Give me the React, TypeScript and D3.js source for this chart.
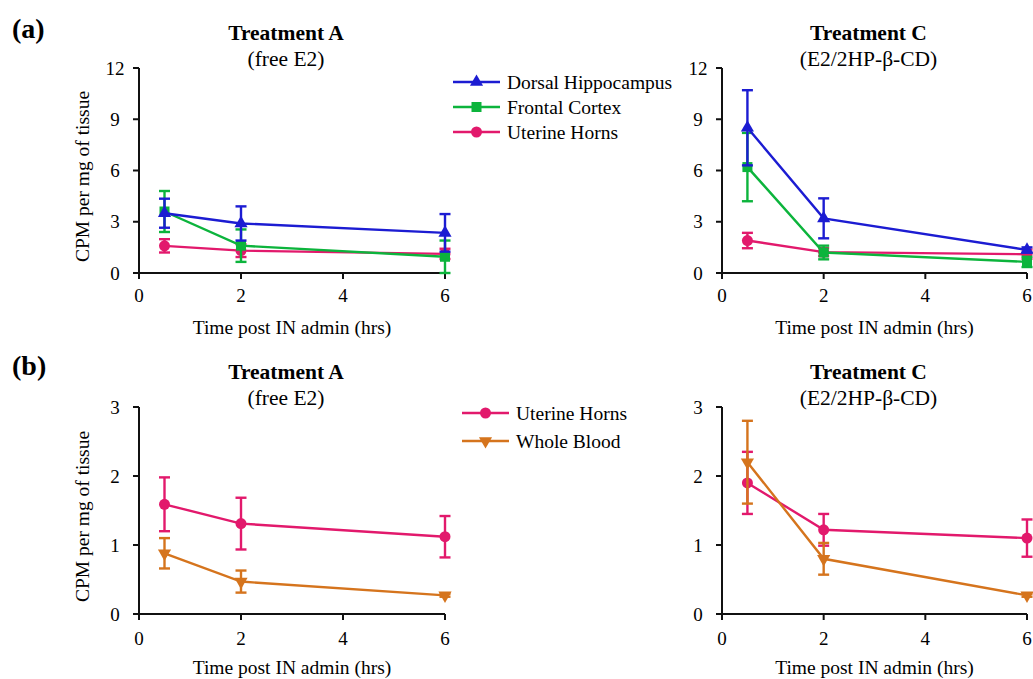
import React from "react";
import * as d3 from "d3";

// ---- data ----
const times = [0.5, 2, 6];
const xTicks = [0, 2, 4, 6];
const yTicksA = [0, 3, 6, 9, 12];
const yTicksB = [0, 1, 2, 3];

const dhA = [3.5, 2.9, 2.35];
const dhAErr = [0.85, 1.0, 1.1];
const fcA = [3.6, 1.6, 0.95];
const fcAErr = [1.2, 0.95, 0.95];
const uhA = [1.59, 1.31, 1.12];
const uhAErr = [0.39, 0.375, 0.3];
const wbA = [0.88, 0.47, 0.27];
const wbAErr = [0.22, 0.16, 0.02];

const dhC = [8.5, 3.2, 1.35];
const dhCErr = [2.2, 1.17, 0.15];
const fcC = [6.2, 1.2, 0.65];
const fcCErr = [2.0, 0.4, 0.3];
const uhC = [1.9, 1.22, 1.1];
const uhCErr = [0.45, 0.23, 0.27];
const wbC = [2.2, 0.8, 0.27];
const wbCErr = [0.6, 0.23, 0.02];

const COL = {
  dh: "#1c1cd2",
  fc: "#0cb43c",
  uh: "#e2196c",
  wb: "#d5741d",
};

type Shape = "tri" | "sq" | "circ" | "itri";

interface Series {
  name: string;
  color: string;
  shape: Shape;
  values: number[];
  errs: number[];
}

const FONT = "'Liberation Serif', 'Times New Roman', serif";

function Marker({ shape, x, y, color }: { shape: Shape; x: number; y: number; color: string }) {
  if (shape === "circ") return <circle cx={x} cy={y} r={5.5} fill={color} />;
  if (shape === "sq") return <rect x={x - 5} y={y - 5} width={10} height={10} fill={color} />;
  const sym = d3.symbol().type(d3.symbolTriangle).size(75)();
  return (
    <path d={sym || ""} transform={`translate(${x},${y})${shape === "itri" ? " rotate(180)" : ""}`} fill={color} />
  );
}

function Panel({
  x0, x1, yBot, yTop, yMax, yTicks, series, title, subtitle, tickY, labelY, showYLabel,
}: {
  x0: number; x1: number; yBot: number; yTop: number; yMax: number; yTicks: number[];
  series: Series[]; title: string; subtitle: string; tickY: number; labelY: number; showYLabel: boolean;
}) {
  const xs = d3.scaleLinear().domain([0, 6]).range([x0, x1]);
  const ys = d3.scaleLinear().domain([0, yMax]).range([yBot, yTop]);
  const line = d3
    .line<number>()
    .x((_, i) => xs(times[i]))
    .y((v) => ys(v));
  const cx = (x0 + x1) / 2;
  return (
    <g>
      <text x={cx - 6} y={yTop - 28} textAnchor="middle" fontFamily={FONT} fontWeight="bold" fontSize={21.5}>
        {title}
      </text>
      <text x={cx - 6} y={yTop - 2} textAnchor="middle" fontFamily={FONT} fontSize={21.5}>
        {subtitle}
      </text>
      {/* axes */}
      <line x1={x0} x2={x0} y1={yTop} y2={yBot} stroke="#111" strokeWidth={2} />
      <line x1={x0 - 6} x2={x1} y1={yBot} y2={yBot} stroke="#111" strokeWidth={2} />
      {yTicks.map((t) => (
        <g key={"y" + t}>
          <line x1={x0 - 6} x2={x0} y1={ys(t)} y2={ys(t)} stroke="#111" strokeWidth={2} />
          <text x={x0 - 24} y={ys(t) + 6.5} textAnchor="middle" fontFamily={FONT} fontSize={19}>
            {t}
          </text>
        </g>
      ))}
      {xTicks.map((t) => (
        <g key={"x" + t}>
          <line x1={xs(t)} x2={xs(t)} y1={yBot} y2={yBot + 6} stroke="#111" strokeWidth={2} />
          <text x={xs(t)} y={tickY} textAnchor="middle" fontFamily={FONT} fontSize={19}>
            {t}
          </text>
        </g>
      ))}
      <text x={cx} y={labelY} textAnchor="middle" fontFamily={FONT} fontSize={19.5}>
        Time post IN admin (hrs)
      </text>
      {showYLabel && (
        <text
          transform={`translate(${x0 - 50},${(yTop + yBot) / 2 + 6}) rotate(-90)`}
          textAnchor="middle"
          fontFamily={FONT}
          fontSize={19.5}
        >
          CPM per mg of tissue
        </text>
      )}
      {series.map((s) => (
        <g key={s.name}>
          <path d={line(s.values) || ""} fill="none" stroke={s.color} strokeWidth={2.4} />
          {s.values.map((v, i) => {
            const px = xs(times[i]);
            const hi = ys(v + s.errs[i]);
            const lo = ys(Math.max(0, v - s.errs[i]));
            return (
              <g key={i}>
                <line x1={px} x2={px} y1={hi} y2={lo} stroke={s.color} strokeWidth={2.4} />
                <line x1={px - 5.5} x2={px + 5.5} y1={hi} y2={hi} stroke={s.color} strokeWidth={2.4} />
                <line x1={px - 5.5} x2={px + 5.5} y1={lo} y2={lo} stroke={s.color} strokeWidth={2.4} />
                <Marker shape={s.shape} x={px} y={ys(v)} color={s.color} />
              </g>
            );
          })}
        </g>
      ))}
    </g>
  );
}

function Legend({ x, y, gap, series }: { x: number; y: number; gap: number; series: Series[] }) {
  return (
    <g>
      {series.map((s, i) => {
        const cy = y + i * gap;
        return (
          <g key={s.name}>
            <line x1={x} x2={x + 47} y1={cy} y2={cy} stroke={s.color} strokeWidth={2.4} />
            <Marker shape={s.shape} x={x + 23.5} y={cy} color={s.color} />
            <text x={x + 54} y={cy + 6.5} fontFamily={FONT} fontSize={19.5}>
              {s.name}
            </text>
          </g>
        );
      })}
    </g>
  );
}

export default function App() {
  const sDhA: Series = { name: "Dorsal Hippocampus", color: COL.dh, shape: "tri", values: dhA, errs: dhAErr };
  const sFcA: Series = { name: "Frontal Cortex", color: COL.fc, shape: "sq", values: fcA, errs: fcAErr };
  const sUhA: Series = { name: "Uterine Horns", color: COL.uh, shape: "circ", values: uhA, errs: uhAErr };
  const sWbA: Series = { name: "Whole Blood", color: COL.wb, shape: "itri", values: wbA, errs: wbAErr };
  const sDhC: Series = { ...sDhA, values: dhC, errs: dhCErr };
  const sFcC: Series = { ...sFcA, values: fcC, errs: fcCErr };
  const sUhC: Series = { ...sUhA, values: uhC, errs: uhCErr };
  const sWbC: Series = { ...sWbA, values: wbC, errs: wbCErr };

  return (
    <svg width={1033} height={679} style={{ position: "absolute", left: 0, top: 0, background: "#fff" }}>
      <rect width={1033} height={679} fill="#fff" />
      <text x={12} y={38} fontFamily={FONT} fontWeight="bold" fontSize={28}>(a)</text>
      <text x={12} y={375} fontFamily={FONT} fontWeight="bold" fontSize={28}>(b)</text>

      <Panel x0={139} x1={445} yBot={273} yTop={68} yMax={12} yTicks={yTicksA}
        series={[sUhA, sFcA, sDhA]} title="Treatment A" subtitle="(free E2)"
        tickY={302} labelY={334} showYLabel />
      <Panel x0={722} x1={1027} yBot={273} yTop={68} yMax={12} yTicks={yTicksA}
        series={[sUhC, sFcC, sDhC]} title="Treatment C" subtitle="(E2/2HP-β-CD)"
        tickY={302} labelY={334} showYLabel={false} />
      <Panel x0={139} x1={445} yBot={614} yTop={407} yMax={3} yTicks={yTicksB}
        series={[sWbA, sUhA]} title="Treatment A" subtitle="(free E2)"
        tickY={645} labelY={674} showYLabel />
      <Panel x0={722} x1={1027} yBot={614} yTop={407} yMax={3} yTicks={yTicksB}
        series={[sUhC, sWbC]} title="Treatment C" subtitle="(E2/2HP-β-CD)"
        tickY={645} labelY={674} showYLabel={false} />

      <Legend x={453} y={82} gap={25} series={[sDhA, sFcA, sUhA]} />
      <Legend x={462} y={413} gap={28} series={[sUhA, sWbA]} />
    </svg>
  );
}
